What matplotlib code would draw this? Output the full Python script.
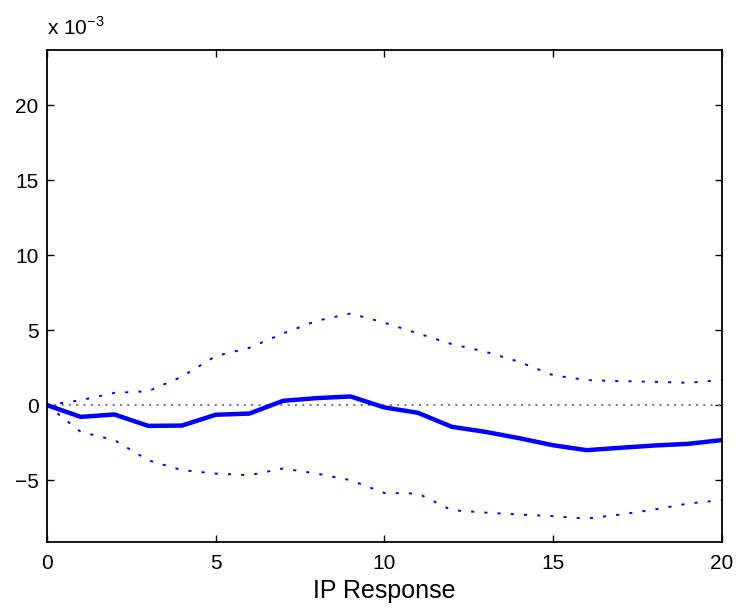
import numpy as np
import matplotlib.pyplot as plt

plt.rcParams['font.family'] = ['Liberation Sans', 'DejaVu Sans']

# horizon and responses (units of 1e-3)
steps = list(range(21))
irf = [0.0, -0.78, -0.62, -1.38, -1.36, -0.64, -0.56, 0.29, 0.47, 0.58, -0.15,
       -0.51, -1.44, -1.78, -2.2, -2.67, -3.0, -2.84, -2.69, -2.58, -2.33]
upper = [0.0, 0.33, 0.82, 0.93, 1.9, 3.27, 3.82, 4.78, 5.62, 6.11, 5.5,
         4.78, 4.07, 3.56, 2.89, 2.0, 1.67, 1.6, 1.56, 1.49, 1.67]
lower = [0.0, -1.78, -2.33, -3.67, -4.33, -4.56, -4.67, -4.22, -4.56, -5.0, -5.85,
         -5.89, -7.0, -7.16, -7.29, -7.4, -7.56, -7.29, -6.96, -6.56, -6.33]

fig = plt.figure(figsize=(7.38, 6.09), dpi=100)
ax = fig.add_axes([0.0637, 0.1105, 0.914, 0.8074])

ax.plot(steps, [0] * len(steps), color='#7f7f7f', lw=1.5, linestyle=(0, (1, 2.5)))
ax.plot(steps, upper, color='blue', lw=1.4, linestyle=(0, (1.6, 5.2)))
ax.plot(steps, lower, color='blue', lw=1.4, linestyle=(0, (1.6, 5.2)))
ax.plot(steps, irf, color='blue', lw=3.2, solid_joinstyle='miter')

ax.set_xlim(0, 20)
ax.set_ylim(-9.1, 23.67)
ax.set_xticks([0, 5, 10, 15, 20])
ax.set_yticks([-5, 0, 5, 10, 15, 20])
ax.tick_params(direction='in', length=5, width=1, labelsize=15,
               top=True, right=True, pad=6)
ax.tick_params(axis='x', pad=9)
for s in ax.spines.values():
    s.set_linewidth(1.3)

ax.set_xlabel('IP Response', fontsize=18, labelpad=4)
ax.text(0, 1.022, r'x 10$^{\mathregular{-3}}$', transform=ax.transAxes,
        fontsize=15, ha='left', va='bottom')

fig.savefig('out.png', dpi=100)
